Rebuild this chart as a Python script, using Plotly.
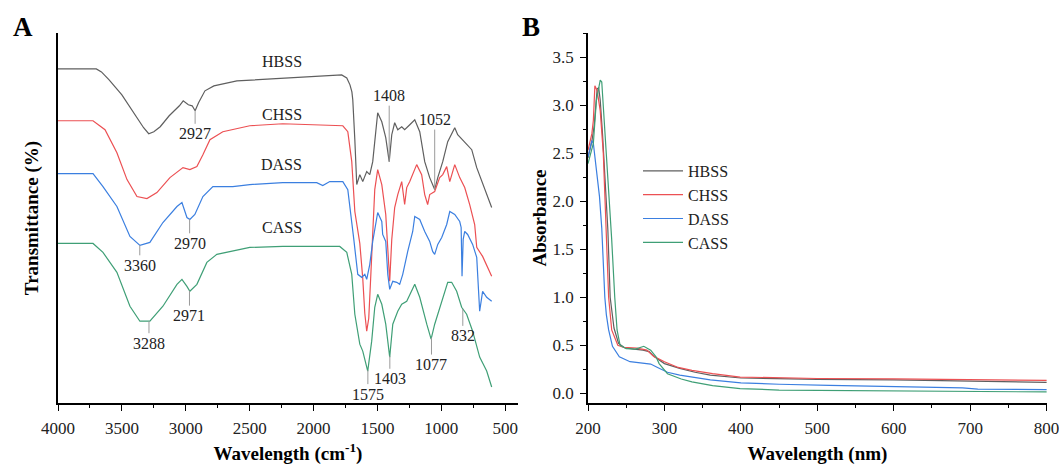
import plotly.graph_objects as go
import numpy as np

FONT = "Liberation Serif"
W, H = 1059, 465

# ---------------- data: panel A (FTIR, offset transmittance, arbitrary units) ----------------
series_names = ["HBSS", "CHSS", "DASS", "CASS"]

hbss_wn = [4000, 3700, 3660, 3600, 3500, 3400, 3330, 3290, 3250, 3200, 3130, 3050, 3020, 2980, 2950,
           2927, 2900, 2850, 2780, 2600, 2300, 2000, 1780, 1740, 1715, 1700, 1693, 1677, 1662, 1638,
           1615, 1584, 1560, 1537, 1498, 1466, 1435, 1408, 1388, 1365, 1341, 1310, 1287, 1247, 1208,
           1169, 1130, 1091, 1052, 1028, 989, 950, 895, 872, 817, 762, 723, 677, 606]
hbss_t = [335, 335, 332, 324, 309, 289, 276, 270, 272, 277, 288, 298, 303, 299, 298,
          293, 301, 313, 318, 323, 325, 327, 329, 326, 319, 312, 304, 264, 219, 229,
          222, 232, 229, 242, 291, 282, 266, 242, 269, 281, 274, 277, 274, 279, 284,
          272, 242, 226, 214, 226, 242, 262, 276, 269, 262, 254, 236, 221, 196]

chss_wn = [4000, 3726, 3632, 3539, 3460, 3382, 3304, 3226, 3124, 3022, 2968, 2913, 2866, 2811, 2710,
           2499, 2241, 1771, 1732, 1701, 1677, 1638, 1615, 1599, 1584, 1568, 1553, 1537, 1521, 1498,
           1466, 1435, 1427, 1412, 1404, 1388, 1365, 1341, 1310, 1287, 1271, 1247, 1193, 1154, 1130,
           1107, 1091, 1052, 1013, 989, 958, 934, 895, 856, 817, 778, 739, 723, 677, 606]
chss_t = [283, 283, 274, 251, 224, 207, 205, 211, 226, 236, 234, 237, 249, 264, 272,
          278, 280, 278, 272, 242, 192, 160, 125, 90, 72, 85, 125, 179, 214, 234,
          219, 189, 169, 146, 122, 164, 196, 209, 222, 199, 216, 222, 239, 229, 209,
          199, 209, 212, 226, 229, 237, 222, 239, 226, 216, 199, 179, 156, 147, 127]

dass_wn = [4000, 3726, 3648, 3539, 3437, 3359, 3281, 3179, 3069, 3030, 2991, 2968, 2929, 2866, 2788,
           2632, 2499, 2241, 1975, 1928, 1873, 1771, 1732, 1717, 1693, 1685, 1654, 1623, 1599, 1584,
           1560, 1537, 1498, 1466, 1459, 1435, 1419, 1404, 1380, 1349, 1326, 1302, 1263, 1224, 1208,
           1169, 1130, 1091, 1068, 1052, 1028, 997, 958, 934, 895, 856, 845, 838, 829, 817,
           794, 755, 723, 700, 677, 645, 606]
dass_t = [230, 230, 217, 197, 167, 158, 161, 181, 197, 201, 186, 184, 189, 207, 217,
          217, 219, 221, 221, 218, 222, 222, 214, 199, 176, 164, 129, 126, 129, 124,
          139, 162, 191, 182, 169, 162, 129, 114, 122, 121, 119, 129, 152, 172, 187,
          184, 172, 162, 152, 149, 159, 166, 179, 192, 189, 182, 176, 127, 164, 172,
          169, 159, 146, 92, 112, 106, 102]

cass_wn = [4000, 3726, 3648, 3539, 3437, 3359, 3281, 3179, 3069, 3030, 2991, 2968, 2913, 2835, 2757,
           2499, 2241, 1795, 1740, 1701, 1677, 1638, 1615, 1576, 1545, 1521, 1498, 1466, 1435, 1404,
           1380, 1341, 1310, 1271, 1208, 1169, 1114, 1080, 1052, 989, 950, 919, 880, 841, 802,
           755, 700, 645, 606]
cass_t = [160, 160, 151, 131, 97, 82, 82, 97, 119, 124, 117, 112, 119, 141, 149,
          156, 157, 157, 151, 129, 89, 59, 52, 32, 62, 96, 109, 99, 79, 46,
          79, 92, 99, 102, 119, 106, 79, 64, 79, 106, 121, 121, 112, 96, 89,
          72, 46, 32, 16]

# peak labels in panel A
peak_series = ["HBSS", "HBSS", "HBSS", "DASS", "DASS", "CASS", "CASS", "CASS", "CASS", "CASS", "CASS"]
peak_wn = [2927, 1408, 1052, 2970, 3360, 2971, 3288, 1575, 1403, 1077, 832]

# ---------------- data: panel B (UV-Vis absorbance) ----------------
hbss_wl = [200, 205, 208, 210, 212, 214, 216, 219, 222, 226, 229, 234, 240, 248, 260, 272, 280, 287,
           300, 320, 340, 360, 400, 500, 600, 700, 800]
hbss_a = [2.45, 2.62, 2.78, 3.0, 3.17, 3.18, 3.05, 2.7, 2.3, 1.7, 1.0, 0.68, 0.52, 0.475, 0.46, 0.45,
          0.435, 0.38, 0.31, 0.26, 0.22, 0.19, 0.16, 0.145, 0.14, 0.13, 0.115]

chss_wl = [200, 205, 207, 209, 212, 216, 220, 224, 227, 231, 239, 246, 264, 277, 286, 300, 318, 336,
           363, 399, 450, 500, 600, 700, 800]
chss_a = [2.53, 2.70, 2.84, 3.20, 3.15, 2.94, 2.5, 1.75, 1.0, 0.66, 0.5, 0.48, 0.47, 0.45, 0.385, 0.33,
          0.27, 0.24, 0.205, 0.17, 0.16, 0.155, 0.15, 0.14, 0.135]

dass_wl = [200, 203, 205, 207, 209, 212, 215, 218, 220, 222, 224, 227, 232, 241, 255, 270, 282, 291,
           304, 320, 336, 360, 400, 450, 516, 600, 690, 710, 800]
dass_a = [2.46, 2.58, 2.63, 2.6, 2.45, 2.25, 2.05, 1.72, 1.3, 1.0, 0.82, 0.66, 0.49, 0.38, 0.33, 0.315,
          0.305, 0.27, 0.22, 0.19, 0.17, 0.14, 0.11, 0.095, 0.083, 0.07, 0.058, 0.045, 0.04]

cass_wl = [200, 207, 211, 213.5, 216, 218, 222, 226, 229, 231, 235, 238, 242, 250, 262, 273, 282, 289,
           293, 304, 322, 336, 363, 399, 450, 516, 600, 700, 800]
cass_a = [2.39, 2.60, 3.05, 3.15, 3.26, 3.24, 2.77, 2.3, 1.9, 1.6, 1.0, 0.66, 0.5, 0.465, 0.46, 0.49,
          0.45, 0.38, 0.31, 0.205, 0.15, 0.12, 0.08, 0.05, 0.035, 0.03, 0.025, 0.02, 0.015]

# ---------------- styles ----------------
colors = {"HBSS": "#5f5f5f", "CHSS": "#ec5053", "DASS": "#3b7fe0", "CASS": "#3f9f76"}
ftir = {"HBSS": (hbss_wn, hbss_t), "CHSS": (chss_wn, chss_t),
        "DASS": (dass_wn, dass_t), "CASS": (cass_wn, cass_t)}
uv = {"HBSS": (hbss_wl, hbss_a), "CHSS": (chss_wl, chss_a),
      "DASS": (dass_wl, dass_a), "CASS": (cass_wl, cass_a)}

# name tags in panel A (data-space anchors) and leader offsets (px)
name_tag_x = 2248
name_tag_y = {"HBSS": 342, "CHSS": 289, "DASS": 239, "CASS": 176}
peak_ay = [23, -66, -70, 24, 20, 25, 22, 24, 23, 27, 27]

# plot-area geometry (px)
ML, MR, MT, MB = 58, 12, 33, 62
PW = W - ML - MR
A_RIGHT = 518
B_LEFT = 588

fig = go.Figure()

for nm in series_names:
    x, y = ftir[nm]
    fig.add_trace(go.Scatter(x=x, y=y, mode="lines", name=nm, showlegend=False,
                             line=dict(color=colors[nm], width=1.2), xaxis="x", yaxis="y",
                             hoverinfo="skip"))

for nm in series_names:
    x, y = uv[nm]
    fig.add_trace(go.Scatter(x=x, y=y, mode="lines", name=nm, showlegend=True,
                             line=dict(color=colors[nm], width=1.2), xaxis="x2", yaxis="y2"))

annotations = []
for nm in series_names:
    annotations.append(dict(x=name_tag_x, y=name_tag_y[nm], xref="x", yref="y", text=nm,
                            showarrow=False, xanchor="center", yanchor="middle",
                            font=dict(family=FONT, size=16, color="#222")))
for s, wn, ay in zip(peak_series, peak_wn, peak_ay):
    xs, ys = ftir[s]
    yv = float(np.interp(-wn, -np.array(xs, float), np.array(ys, float)))
    annotations.append(dict(x=wn, y=yv, xref="x", yref="y", text=str(wn), showarrow=True,
                            arrowhead=0, arrowwidth=1, arrowcolor="#9a9a9a", ax=0, ay=ay,
                            standoff=0, font=dict(family=FONT, size=16, color="#222")))


def px_x(p):
    return (p - ML) / PW


def px_y(p):
    return (H - MB - p) / (H - MT - MB)


annotations.append(dict(x=px_x(23), y=px_y(27), xref="paper", yref="paper", text="<b>A</b>",
                        xanchor="center", yanchor="middle", showarrow=False,
                        font=dict(family=FONT, size=27, color="black")))
annotations.append(dict(x=px_x(531), y=px_y(27), xref="paper", yref="paper", text="<b>B</b>",
                        xanchor="center", yanchor="middle", showarrow=False,
                        font=dict(family=FONT, size=27, color="black")))

tickfont = dict(family=FONT, size=17, color="#222")
titlefont = dict(family=FONT, size=19, color="black")

common_x = dict(ticks="outside", ticklen=6, tickwidth=1.3, tickcolor="black", tickfont=tickfont,
                ticklabelstandoff=3, ticklabeloverflow="allow",
                showline=True, linecolor="black", linewidth=1.6,
                showgrid=False, zeroline=False, automargin=False)

fig.update_layout(
    width=W, height=H, margin=dict(l=ML, r=MR, t=MT, b=MB, autoexpand=False),
    paper_bgcolor="white", plot_bgcolor="white",
    font=dict(family=FONT, size=16, color="#222"),
    xaxis=dict(domain=[0, px_x(A_RIGHT)], range=[4000, 400], anchor="y", tick0=0, dtick=500,
               minor=dict(dtick=250, ticks="outside", ticklen=3, tickwidth=1.2, tickcolor="black",
                          showgrid=False),
               title=dict(text="<b>Wavelength (cm<sup>-1</sup>)</b>", font=titlefont, standoff=14),
               **common_x),
    yaxis=dict(domain=[0, 1], range=[0, 371], anchor="x", showticklabels=False, ticks="",
               showline=True, linecolor="black", linewidth=2.2, showgrid=False, zeroline=False,
               automargin=False,
               title=dict(text="<b>Transmittance (%)</b>", font=titlefont, standoff=12)),
    xaxis2=dict(domain=[px_x(B_LEFT), 1], range=[200, 800.5], anchor="y2", tick0=0, dtick=100,
                minor=dict(dtick=50, ticks="outside", ticklen=3, tickwidth=1.2, tickcolor="black",
                           showgrid=False),
                title=dict(text="<b>Wavelength (nm)</b>", font=titlefont, standoff=14),
                **common_x),
    yaxis2=dict(domain=[0, 1], range=[-0.1, 3.75], anchor="x2", tick0=0, dtick=0.5,
                tickformat=".1f",
                minor=dict(dtick=0.25, ticks="outside", ticklen=3, tickwidth=1.2, tickcolor="black",
                           showgrid=False),
                title=dict(text="<b>Absorbance</b>", font=titlefont, standoff=1),
                **common_x),
    legend=dict(x=px_x(638), y=px_y(154), xanchor="left", yanchor="top",
                font=dict(family=FONT, size=16, color="#222"), bgcolor="rgba(0,0,0,0)",
                borderwidth=0, itemwidth=40, tracegroupgap=0),
    annotations=annotations,
)

fig.write_html("out.html", config={"displayModeBar": False},
               post_script="document.body.style.margin='0';document.body.style.overflow='hidden';")
